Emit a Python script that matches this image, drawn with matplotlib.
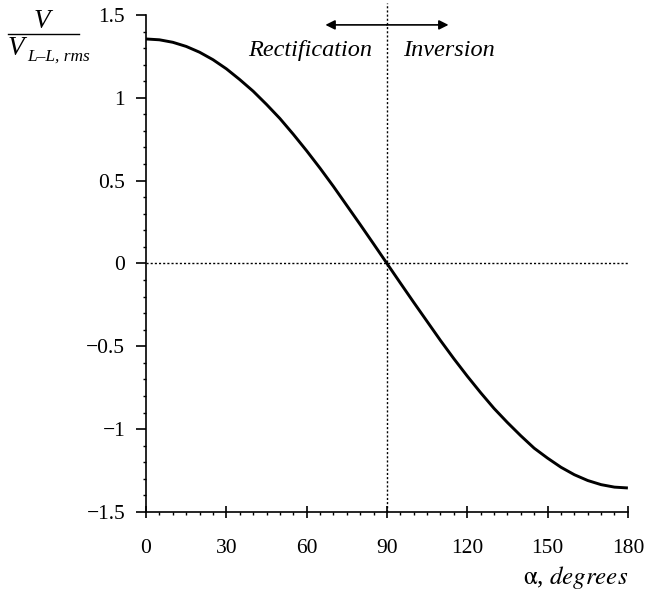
import matplotlib
matplotlib.use('Agg')
import matplotlib.pyplot as plt
from matplotlib.lines import Line2D
from matplotlib.ticker import MultipleLocator

plt.rcParams['font.family'] = ['Liberation Serif', 'DejaVu Serif']
plt.rcParams['mathtext.fontset'] = 'stix'

# firing angle (degrees) and normalised average dc output voltage
alpha = [0, 5, 10, 15, 20, 25, 30, 35, 40, 45, 50, 55, 60, 65, 70, 75, 80, 85, 90,
         95, 100, 105, 110, 115, 120, 125, 130, 135, 140, 145, 150, 155, 160, 165, 170, 175, 180]
v_ratio = [1.355, 1.35, 1.335, 1.31, 1.275, 1.23, 1.175, 1.11, 1.04, 0.96, 0.875, 0.78,
           0.68, 0.575, 0.465, 0.35, 0.235, 0.118, 0.0,
           -0.118, -0.235, -0.35, -0.465, -0.575, -0.68, -0.78, -0.875, -0.96, -1.04,
           -1.115, -1.175, -1.23, -1.275, -1.31, -1.335, -1.35, -1.355]

x_ticks = [0, 30, 60, 90, 120, 150, 180]
y_ticks = [-1.5, -1, -0.5, 0, 0.5, 1, 1.5]
y_tick_labels = ['\u22121.5', '\u22121', '\u22120.5', '0', '0.5', '1', '1.5']

W, H = 652, 591
fig = plt.figure(figsize=(W / 100, H / 100), dpi=100)
ax = fig.add_axes([0.224, 0.1337, 0.739, 0.841])

ax.plot(alpha, v_ratio, color='black', linewidth=2.1, solid_capstyle='butt')

# reference lines at zero output and at 90 degrees
ax.axhline(0, color='black', linestyle=(0, (1.5, 1.5)), linewidth=1.0)
ax.plot([90, 90], [-1.5, 1.57], color='black', linestyle=(0, (1.5, 1.5)),
        linewidth=1.0, clip_on=False)

# operating regions
for x_end in (67, 113):
    ax.annotate('', xy=(x_end, 1.44), xytext=(90, 1.44),
                arrowprops=dict(arrowstyle='-|>', color='black', lw=1.2,
                                mutation_scale=14, shrinkA=0, shrinkB=0),
                annotation_clip=False)
ax.text(84.5, 1.285, 'Rectification', style='italic', fontsize=17.5,
        ha='right', va='center')
ax.text(96, 1.285, 'Inversion', style='italic', fontsize=17.5,
        ha='left', va='center')

ax.set_xlim(0, 180)
ax.set_ylim(-1.5, 1.5)
ax.set_xticks(x_ticks)
ax.set_yticks(y_ticks)
ax.set_yticklabels(y_tick_labels)
ax.xaxis.set_minor_locator(MultipleLocator(5))
ax.yaxis.set_minor_locator(MultipleLocator(0.1))

for side in ['top', 'right']:
    ax.spines[side].set_visible(False)
for side in ['left', 'bottom']:
    ax.spines[side].set_linewidth(1.2)

ax.tick_params(axis='x', which='major', direction='inout', length=9, width=1.2,
               labelsize=15.5, pad=15)
ax.tick_params(axis='y', which='major', direction='out', length=7, width=1.2,
               labelsize=15.5, pad=8)
ax.tick_params(which='minor', direction='out', length=2.5, width=1.0)

# x axis label
fig.text(628 / W, 1 - 584 / H, r'$\mathrm{\alpha}$, $\mathit{degrees}$',
         fontsize=18, ha='right', va='baseline')

# y axis label drawn as a fraction
fig.text(42 / W, 1 - 22 / H, 'V', style='italic', fontsize=19.5,
         ha='center', va='center')
fig.add_artist(Line2D([8 / W, 79 / W], [1 - 34 / H, 1 - 34 / H],
                      transform=fig.transFigure, color='black', linewidth=1.0))
fig.text(8 / W, 1 - 55 / H, 'V', style='italic', fontsize=19.5,
         ha='left', va='baseline')
fig.text(27 / W, 1 - 61 / H, 'L\u2013L, rms', style='italic', fontsize=12.5,
         ha='left', va='baseline')

fig.savefig('out.png', dpi=100)
